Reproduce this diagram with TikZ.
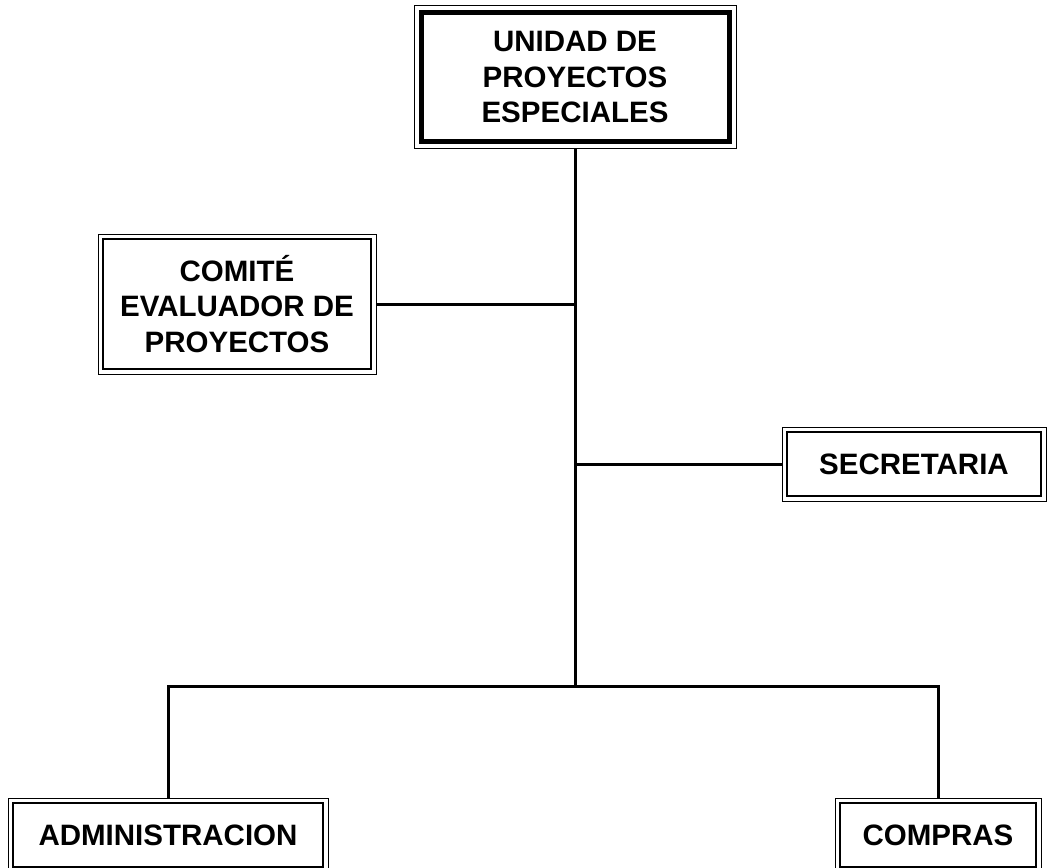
\documentclass[tikz,border=0pt]{standalone}
\usepackage{fontspec}
\setmainfont{Liberation Sans}
\usetikzlibrary{calc}

\begin{document}
\begin{tikzpicture}[
  x=1pt, y=-1pt,
  line width=3pt,
  every node/.style = {shape=rectangle, draw, align=center, inner sep=0pt,
    font=\bfseries\fontsize{29.5}{35.5}\selectfont},
  unitbox/.style = {line width=5pt, outer sep=7pt},
  deptbox/.style = {line width=2pt, outer sep=5pt}
]
  \useasboundingbox (0,0) rectangle (1048,867);
  \node[unitbox, minimum width=308pt, minimum height=128pt] (unidad) at (575,77) {UNIDAD DE\\PROYECTOS\\ESPECIALES};
  \node[deptbox, minimum width=268pt, minimum height=130pt] (comite) at (237,304) {COMITÉ\\EVALUADOR DE\\PROYECTOS};
  \node[deptbox, minimum width=254pt, minimum height=64pt] (secretaria) at (914,464) {SECRETARIA};
  \node[deptbox, minimum width=310pt, minimum height=64pt] (admin) at (168,835) {ADMINISTRACION};
  \node[deptbox, minimum width=196pt, minimum height=64pt] (compras) at (938,835) {COMPRAS};
  \coordinate (bus) at (575,686);

  \foreach \n in {unidad,comite,secretaria,admin,compras}
    \draw[line width=1pt] (\n.north west) rectangle (\n.south east);

  \draw (unidad.south) -- (bus);
  \draw (comite.east) -- (comite.east -| bus);
  \draw (secretaria.west) -- (secretaria.west -| bus);
  \draw (admin.north) |- (bus) -| (compras.north);
\end{tikzpicture}
\end{document}
